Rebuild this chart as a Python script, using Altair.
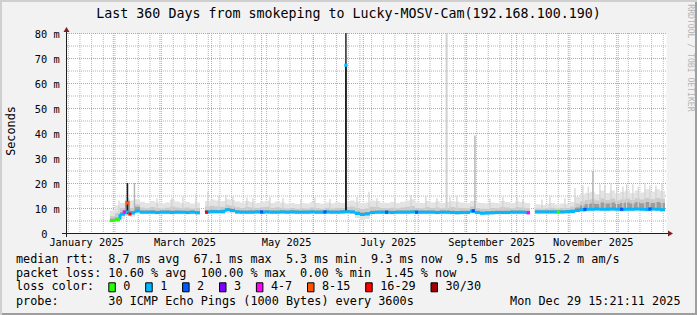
import altair as alt
import pandas as pd

# ---------------- text ----------------
TITLE = "Last 360 Days from smokeping to Lucky-MOSV-Cam(192.168.100.190)"
Y_TITLE = "Seconds"
WATERMARK = "RRDTOOL / TOBI OETIKER"
STAMP = "Mon Dec 29 15:21:11 2025"
LEGEND_ROWS = [
    "median rtt:  8.7 ms avg  67.1 ms max  5.3 ms min  9.3 ms now  9.5 ms sd  915.2 m am/s",
    "packet loss: 10.60 % avg  100.00 % max  0.00 % min  1.45 % now",
    "loss color:",
    "probe:       30 ICMP Echo Pings (1000 Bytes) every 3600s",
]

# ---------------- time frame / axis ----------------
X_START = "2025-01-03T15:21:11"
X_END = "2025-12-29T15:21:11"
BIN_START = "2025-01-30"
BIN_DAYS = 3
LABEL_DATES = ["2025-01-16", "2025-03-16", "2025-05-16", "2025-07-16", "2025-09-16", "2025-11-16"]
LABEL_TEXT = ["January 2025", "March 2025", "May 2025", "July 2025", "September 2025", "November 2025"]
Y_MAJOR = [10, 20, 30, 40, 50, 60, 70, 80]
Y_MINOR = [5, 15, 25, 35, 45, 55, 65, 75]
Y_TICKS = [0, 10, 20, 30, 40, 50, 60, 70, 80]
Y_TICK_TEXT = ["0", "10 m", "20 m", "30 m", "40 m", "50 m", "60 m", "70 m", "80 m"]

# ---------------- loss colours ----------------
loss_labels = ["0", "1", "2", "3", "4-7", "8-15", "16-29", "30/30"]
loss_colors = ["#26ff00", "#00b8ff", "#0059ff", "#7e00ff", "#ff00ff", "#ff5500", "#ff0000", "#a00000"]

# ---------------- per-bin values (ms), 3-day bins from 2025-01-30 ----------------
median_ms = [
    5.0, 5.3, 7.5, 8.4, 8.0, 8.8, 8.3, 8.3, 8.3, 8.2,
    8.3, 8.3, 8.2, 8.3, 8.3, 8.2, 8.3, 8.1, None, 8.4,
    8.5, 8.5, 8.5, 9.3, 9.0, 8.4, 8.3, 8.3, 8.3, 8.4,
    8.3, 8.4, 8.3, 8.3, 8.4, 8.3, 8.4, 8.3, 8.3, 8.3,
    8.4, 8.3, 8.3, 8.4, 8.3, 8.3, 8.4, 8.5, 8.4, 7.8,
    7.4, 7.6, 8.2, 8.3, 8.3, 8.3, 8.2, 8.3, 8.3, 8.3,
    8.4, 8.3, 8.3, 8.3, 8.3, 8.2, 8.3, 8.3, 8.2, 8.1,
    8.2, 8.2, 8.7, 8.2, 7.9, 8.0, 8.1, 8.2, 8.2, 8.2,
    8.3, 8.3, 8.3, 8.2, None, 8.4, 8.4, 8.4, 8.4, 8.4,
    8.4, 8.5, 8.6, 9.0, 9.3, 9.5, 9.5, 9.6, 9.5, 9.5,
    9.6, 9.5, 9.4, 9.5, 9.5, 9.6, 9.5, 9.4, 9.6, 9.5,
    9.3,
]
smoke_max = [
    9.0, 11.0, 12.0, 14.0, 13.0, 13.5, 12.5, 12.0, 12.8, 12.2,
    11.8, 12.2, 13.2, 12.6, 12.0, 12.4, 11.8, 12.2, None, 12.8,
    13.4, 13.0, 12.8, 13.5, 13.2, 12.6, 12.2, 12.8, 12.4, 12.0,
    12.5, 12.9, 12.0, 12.6, 12.2, 11.8, 12.0, 11.6, 12.0, 11.8,
    12.4, 12.0, 11.7, 12.2, 11.9, 12.3, 12.0, 12.8, 13.0, 12.4,
    12.0, 12.2, 13.0, 12.8, 12.2, 12.0, 12.4, 12.0, 12.5, 13.0,
    13.5, 12.2, 12.0, 12.8, 12.2, 12.6, 12.0, 12.4, 12.8, 12.5,
    12.2, 12.0, 12.8, 12.2, 12.0, 11.8, 12.2, 12.0, 12.8, 12.4,
    12.0, 12.6, 12.4, 12.0, None, 11.5, 11.2, 11.6, 12.0, 11.4,
    11.8, 11.6, 12.4, 14.5, 15.5, 16.0, 16.5, 15.5, 17.0, 16.0,
    17.0, 15.8, 16.5, 17.0, 16.0, 17.0, 16.2, 17.5, 16.5, 17.5,
    16.8,
]
smoke_mid = [
    6.8, 8.0, 10.0, 13.0, 10.0, 11.5, 10.2, 9.9, 10.4, 10.0,
    9.8, 10.1, 10.6, 10.2, 9.9, 10.2, 9.8, 10.0, None, 10.6,
    10.9, 10.6, 10.5, 11.2, 10.9, 10.3, 10.0, 10.4, 10.2, 10.0,
    10.3, 10.5, 10.0, 10.3, 10.1, 9.8, 10.0, 9.7, 9.9, 9.8,
    10.2, 9.9, 9.7, 10.1, 9.8, 10.1, 10.0, 10.4, 10.6, 10.0,
    9.6, 9.8, 10.5, 10.4, 10.0, 9.9, 10.1, 9.9, 10.2, 10.5,
    10.8, 10.0, 9.9, 10.4, 10.0, 10.2, 9.9, 10.1, 10.4, 10.1,
    10.0, 9.9, 10.6, 10.0, 9.7, 9.7, 10.0, 9.9, 10.4, 10.2,
    9.9, 10.3, 10.2, 9.9, None, 9.8, 9.7, 9.9, 10.1, 9.8,
    10.0, 10.0, 10.5, 11.8, 12.6, 13.2, 13.5, 13.0, 13.8, 13.2,
    13.8, 13.0, 13.4, 13.8, 13.2, 13.9, 13.4, 14.0, 13.5, 14.0,
    13.6,
]
smoke_core = [
    5.8, 6.2, 8.2, 12.8, 8.8, 10.5, 9.0, 9.0, 9.1, 8.9,
    9.0, 9.0, 9.0, 9.0, 8.9, 8.9, 9.0, 8.8, None, 9.2,
    9.3, 9.2, 9.3, 10.0, 9.8, 9.1, 9.0, 9.0, 9.1, 9.1,
    9.0, 9.1, 9.0, 9.0, 9.1, 9.0, 9.1, 9.0, 9.0, 9.0,
    9.1, 9.0, 9.0, 9.1, 9.0, 9.0, 9.1, 9.2, 9.1, 8.6,
    8.2, 8.4, 8.9, 9.0, 9.0, 9.0, 8.9, 9.0, 9.0, 9.0,
    9.1, 9.0, 9.0, 9.0, 9.0, 8.9, 9.0, 9.0, 8.9, 8.8,
    8.9, 8.9, 9.4, 8.9, 8.6, 8.7, 8.8, 8.9, 8.9, 8.9,
    9.0, 9.0, 9.0, 8.9, None, 9.1, 9.1, 9.1, 9.1, 9.1,
    9.1, 9.2, 9.4, 10.2, 11.0, 11.6, 11.8, 11.6, 12.2, 11.8,
    12.2, 11.6, 12.0, 12.2, 11.8, 12.3, 11.9, 12.4, 12.0, 12.4,
    12.0,
]
smoke_min = [
    4.6, 4.8, 5.5, 7.0, 6.5, 7.6, 7.5, 7.5, 7.5, 7.4,
    7.5, 7.5, 7.4, 7.5, 7.5, 7.4, 7.5, 7.3, None, 7.6,
    7.7, 7.7, 7.7, 8.0, 7.9, 7.6, 7.5, 7.5, 7.5, 7.6,
    7.5, 7.6, 7.5, 7.5, 7.6, 7.5, 7.6, 7.5, 7.5, 7.5,
    7.6, 7.5, 7.5, 7.6, 7.5, 7.5, 7.6, 7.7, 7.6, 6.0,
    5.2, 5.6, 7.3, 7.5, 7.5, 7.5, 7.4, 7.5, 7.5, 7.5,
    7.6, 7.5, 7.5, 7.5, 7.5, 7.4, 7.5, 7.5, 7.4, 7.3,
    7.4, 7.4, 7.8, 7.4, 7.1, 7.2, 7.3, 7.4, 7.4, 7.4,
    7.5, 7.5, 7.5, 7.4, None, 7.7, 7.7, 7.7, 7.7, 7.7,
    7.7, 7.8, 7.9, 8.2, 8.4, 8.6, 8.6, 8.7, 8.6, 8.6,
    8.7, 8.6, 8.5, 8.6, 8.6, 8.7, 8.6, 8.5, 8.7, 8.6,
    8.4,
]
loss_bucket = [
    "0", "0", "1", "1", "1", "1", "1", "1", "1", "1",
    "1", "1", "1", "1", "1", "1", "1", "1", "1", "1",
    "1", "1", "1", "1", "1", "1", "1", "1", "1", "1",
    "1", "1", "1", "1", "1", "1", "1", "1", "1", "1",
    "1", "1", "1", "1", "1", "1", "1", "1", "1", "1",
    "1", "1", "1", "1", "1", "1", "1", "1", "1", "1",
    "1", "1", "1", "1", "1", "1", "1", "1", "1", "1",
    "1", "1", "1", "1", "1", "1", "1", "1", "1", "1",
    "1", "1", "1", "1", "1", "1", "1", "1", "1", "1",
    "1", "1", "1", "1", "1", "1", "1", "1", "1", "1",
    "1", "1", "1", "1", "1", "1", "1", "1", "1", "1",
    "1",
]

# ---------------- short loss-coloured median readings (single points) ----------------
marker_dates = [
    "2025-02-07T14:00", "2025-02-09T14:00", "2025-02-11T00:00", "2025-03-29T00:00",
    "2025-05-01T00:00", "2025-06-08T00:00", "2025-06-20T14:00", "2025-07-15T00:00",
    "2025-08-02T00:00", "2025-09-05T00:00", "2025-10-08T00:00", "2025-10-26T00:00",
    "2025-11-11T00:00", "2025-12-03T00:00", "2025-12-20T00:00",
]
marker_ms = [8.4, 12.0, 7.6, 8.3, 8.4, 8.4, 67.1, 8.3, 8.3, 8.9, 8.1, 8.4, 9.4, 9.5, 9.6]
marker_loss = ["4-7", "8-15", "16-29", "16-29", "2", "2", "1", "2", "2", "2", "4-7", "0", "2", "2", "2"]

# ---------------- single smoke spikes ----------------
spike_dates = [
    "2025-02-04T10:00", "2025-02-09T12:00", "2025-02-13T17:00", "2025-02-27T05:00",
    "2025-03-08T05:00", "2025-03-14T19:00", "2025-03-22T14:00", "2025-03-29T19:00",
    "2025-04-05T10:00", "2025-04-09T14:00", "2025-04-13T19:00", "2025-04-22T05:00",
    "2025-04-25T19:00", "2025-05-06T00:00", "2025-05-13T19:00", "2025-05-24T14:00",
    "2025-06-02T00:00", "2025-06-11T00:00", "2025-06-20T14:00", "2025-06-20T14:00",
    "2025-06-27T05:00", "2025-07-04T10:00", "2025-07-09T05:00", "2025-07-20T00:00",
    "2025-07-29T14:00", "2025-08-07T14:00", "2025-08-14T05:00", "2025-08-20T00:00",
    "2025-08-22T00:00", "2025-08-26T05:00", "2025-09-06T00:00", "2025-09-15T00:00",
    "2025-09-22T19:00", "2025-10-01T05:00", "2025-10-04T19:00", "2025-10-16T05:00",
    "2025-10-21T00:00", "2025-10-30T00:00", "2025-11-09T19:00", "2025-11-15T19:00",
    "2025-11-20T00:00", "2025-11-26T14:00", "2025-12-03T19:00", "2025-12-09T19:00",
    "2025-12-17T00:00", "2025-12-23T14:00", "2025-12-27T05:00", "2025-11-05T00:00",
    "2025-11-13T00:00", "2025-11-23T00:00", "2025-11-30T00:00", "2025-12-06T00:00",
    "2025-12-13T00:00", "2025-12-20T00:00",
]
spike_base = [
    5.5, 7.5, 8.0, 9.0, 9.0, 9.0, 9.0, 9.0, 9.0, 9.0, 9.0, 9.0,
    9.0, 9.0, 9.0, 9.0, 9.0, 9.0, 8.5, 8.5, 9.0, 9.0, 9.0, 9.0,
    9.0, 9.0, 9.0, 9.0, 9.0, 9.0, 9.0, 9.0, 9.0, 9.0, 9.0, 9.0,
    9.0, 9.0, 10.0, 10.0, 10.0, 10.0, 10.0, 10.0, 10.0, 10.0, 10.0, 10.0,
    10.0, 10.0, 10.0, 10.0, 10.0, 10.0,
]
spike_top = [
    13.0, 20.0, 20.0, 13.8, 14.0, 14.5, 15.5, 16.5, 15.0, 15.2, 14.6, 14.2,
    14.0, 14.5, 14.0, 13.5, 14.3, 13.6, 85.0, 67.1, 14.4, 16.5, 14.0, 14.0,
    15.2, 14.8, 14.0, 85.0, 14.5, 15.0, 39.0, 13.8, 14.4, 14.0, 13.6, 13.4,
    15.0, 14.0, 19.0, 24.8, 19.5, 20.0, 18.5, 19.5, 20.0, 19.0, 20.0, 18.0,
    18.5, 19.0, 18.0, 19.5, 18.5, 19.0,
]
spike_kind = [
    "light", "dark", "medium", "light", "light", "light", "light", "light", "light", "light", "light", "light",
    "light", "light", "light", "light", "light", "light", "thin", "dark", "light", "light", "light", "light",
    "light", "light", "light", "faint", "light", "light", "medium", "light", "light", "light", "light", "light",
    "light", "light", "light", "medium", "light", "light", "light", "light", "light", "light", "light", "light",
    "light", "light", "light", "light", "light", "light",
]

# ---------------- helpers ----------------
OX, OY = 66, 33          # plot origin inside the 697x315 canvas
MONO = "DejaVu Sans Mono"


def ms(s):
    t = pd.Timestamp(s)
    if t.tzinfo is None:
        t = t.tz_localize("UTC")
    return int(t.timestamp() * 1000)


def nb(s):
    return s.replace(" ", "\u00a0")


DAY = 86400000
n = len(median_ms)
b0 = ms(BIN_START)
bins = pd.DataFrame({
    "t": [b0 + i * BIN_DAYS * DAY for i in range(n)],
    "t2": [b0 + (i + 1) * BIN_DAYS * DAY for i in range(n)],
    "med": median_ms, "hi": smoke_max, "mid": smoke_mid, "core": smoke_core,
    "lo": smoke_min, "loss": loss_bucket,
})
bins["prev"] = bins["med"].shift(1)
conn = bins.dropna(subset=["med", "prev"])
conn = conn[(conn["prev"] - conn["med"]).abs() > 0.05]
med_df = bins.dropna(subset=["med"])

spikes = pd.DataFrame({"t": [ms(d) for d in spike_dates], "base": spike_base,
                       "top": spike_top, "kind": spike_kind})
markers = pd.DataFrame({"t": [ms(d) for d in marker_dates], "v": marker_ms, "loss": marker_loss})

weeks = pd.DataFrame({"t": [ms(d) for d in pd.date_range("2025-01-05", "2025-12-28", freq="7D")]})
months = pd.DataFrame({"t": [ms(d) for d in pd.date_range("2025-02-01", "2025-12-01", freq="MS")]})
ymin_df = pd.DataFrame({"v": Y_MINOR})
ymaj_df = pd.DataFrame({"v": Y_MAJOR})
xlab_df = pd.DataFrame({"t": [ms(d) for d in LABEL_DATES], "label": [nb(s) for s in LABEL_TEXT]})
ylab_df = pd.DataFrame({"v": Y_TICKS, "label": [nb(s) for s in Y_TICK_TEXT]})
one = pd.DataFrame({"a": [0]})

xs = alt.Scale(type="utc", domain=[ms(X_START), ms(X_END)], nice=False)
ys = alt.Scale(domain=[0, 80], nice=False, zero=False, clamp=True)
loss_scale = alt.Scale(domain=loss_labels, range=loss_colors)

X = lambda f: alt.X(f, type="temporal", scale=xs, axis=None)
Y = lambda f: alt.Y(f, type="quantitative", scale=ys, axis=None)

# ---------------- grid ----------------
MINOR_C, MAJOR_C = "#b4b4b4", "#e49090"
grid_week = alt.Chart(weeks).mark_rule(color=MINOR_C, strokeDash=[1, 1], strokeWidth=1).encode(x=X("t"))
grid_ymin = alt.Chart(ymin_df).mark_rule(color=MINOR_C, strokeDash=[1, 1], strokeWidth=1, yOffset=0.5).encode(
    y=Y("v"))
grid_month = alt.Chart(months).mark_rule(color=MAJOR_C, strokeDash=[1, 1], strokeWidth=1).encode(x=X("t"))
grid_ymaj = alt.Chart(ymaj_df).mark_rule(color=MAJOR_C, strokeDash=[1, 1], strokeWidth=1, yOffset=0.5).encode(
    y=Y("v"))

# axis labels, placed through the scales
x_labels = alt.Chart(xlab_df).mark_text(font=MONO, fontSize=10.3, align="center", baseline="alphabetic",
                                        color="#000000").encode(
    x=X("t"), y=alt.value(245.7 - OY), text="label:N")
y_labels = alt.Chart(ylab_df).transform_filter("datum.v > 0").mark_text(
    font=MONO, fontSize=10.3, align="right", baseline="alphabetic", color="#000000", dy=4.8).encode(
    x=alt.value(59.6 - OX), y=Y("v"), text="label:N")
y_label0 = alt.Chart(ylab_df).transform_filter("datum.v == 0").mark_text(
    font=MONO, fontSize=10.3, align="right", baseline="alphabetic", color="#000000", dy=4.8).encode(
    x=alt.value(47.4 - OX), y=Y("v"), text="label:N")

# ---------------- smoke ----------------
smoke_light = alt.Chart(bins).mark_rect(color="#e3e3e3").encode(x=X("t"), x2="t2", y=Y("lo"), y2="hi")
smoke_medium = alt.Chart(bins).mark_rect(color="#cbcbcb").encode(x=X("t"), x2="t2", y=Y("med"), y2="mid")
smoke_dark = alt.Chart(bins).mark_rect(color="#9c9c9c").encode(x=X("t"), x2="t2", y=Y("med"), y2="core")
spike_layer = alt.Chart(spikes).mark_rule(strokeCap="butt").encode(
    x=X("t"), y=Y("base"), y2="top",
    stroke=alt.Stroke("kind:N", legend=None, scale=alt.Scale(
        domain=["light", "medium", "dark", "thin", "faint"],
        range=["#d2d2d2", "#b2b2b2", "#1c1c1c", "#4a4a4a", "#d0d0d0"])),
    size=alt.Size("kind:N", legend=None, scale=alt.Scale(
        domain=["light", "medium", "dark", "thin", "faint"], range=[1.2, 2, 2, 1, 1])))

# ---------------- median ----------------
med_conn = alt.Chart(conn).mark_rule(strokeWidth=3, strokeCap="butt").encode(
    x=X("t"), y=Y("prev"), y2="med", color=alt.Color("loss:N", scale=loss_scale, legend=None))
med_line = alt.Chart(med_df).mark_rule(strokeWidth=3, strokeCap="butt").encode(
    x=X("t"), x2="t2", y=Y("med"), color=alt.Color("loss:N", scale=loss_scale, legend=None))
marker_layer = alt.Chart(markers).mark_point(shape="square", filled=True, size=10, opacity=1).encode(
    x=X("t"), y=Y("v"), color=alt.Color("loss:N", scale=loss_scale, legend=None))

# ---------------- frame: axis lines, arrows, border ----------------
AXIS_C, ARROW_C = "#1f1f1f", "#801f1f"
y_axis_line = alt.Chart(one).mark_rule(color=AXIS_C, strokeWidth=1).encode(
    x=alt.value(0.5), y=alt.value(-4), y2=alt.value(204))
x_axis_line = alt.Chart(one).mark_rule(color=AXIS_C, strokeWidth=1).encode(
    x=alt.value(-4), x2=alt.value(604), y=alt.value(200.5))
y_arrow = alt.Chart(one).mark_point(shape="M-1,0.833L1,0.833L0,-0.833Z", filled=True, size=36,
                                    color=ARROW_C, opacity=1).encode(x=alt.value(0.5), y=alt.value(-3.5))
x_arrow = alt.Chart(one).mark_point(shape="M-0.833,-1L-0.833,1L0.833,0Z", filled=True, size=36,
                                    color=ARROW_C, opacity=1).encode(x=alt.value(604.5), y=alt.value(200.5))


def band(x0, y0, x1, y1, color):
    return alt.Chart(one).mark_rect(color=color).encode(
        x=alt.value(x0 - OX), x2=alt.value(x1 - OX), y=alt.value(y0 - OY), y2=alt.value(y1 - OY))


border = [band(0, 0, 697, 2, "#cfcfcf"), band(0, 0, 2, 315, "#cfcfcf"),
          band(2, 313, 697, 315, "#9e9e9e"), band(695, 2, 697, 315, "#9e9e9e")]


def text(s, x, y, size, align="left", angle=0, color="#000000"):
    kw = dict(text=nb(s), font=MONO, fontSize=size, align=align, baseline="alphabetic", color=color)
    if angle:
        kw["angle"] = angle
    return alt.Chart(one).mark_text(**kw).encode(x=alt.value(x - OX), y=alt.value(y - OY))


texts = [
    text(TITLE, 348.5, 18.3, 13.3, align="center"),
    text(Y_TITLE, 15, 131, 11.8, align="center", angle=270),
    text(WATERMARK, 687.5, 4.3, 8.1, align="left", angle=90, color="#b4b4b4"),
    text(STAMP, 680.5, 304.5, 11.8, align="right"),
]
ROW_BASE = [262.5, 276.5, 290.3, 304.5]
for s, yb in zip(LEGEND_ROWS, ROW_BASE):
    texts.append(text(s, 16, yb, 11.8))

# legend swatches for loss colours
CW = 7.1
sx, tx = [], []
cur = 108.3
for lab in loss_labels:
    sx.append(cur)
    tx.append(cur + 15)
    cur = cur + 15 + len(lab) * CW + 14.8
sw = pd.DataFrame({"label": loss_labels,
                   "sx": [v - OX + 0.5 for v in sx], "sx2": [v - OX + 7.0 for v in sx],
                   "tx": [v - OX for v in tx]})
swatches = alt.Chart(sw).mark_rect(stroke="#000000", strokeWidth=1).encode(
    x=alt.X("sx:Q", scale=None), x2="sx2", y=alt.value(282.8 - OY), y2=alt.value(291.8 - OY),
    fill=alt.Fill("label:N", scale=loss_scale, legend=None))
sw_text = alt.Chart(sw).mark_text(font=MONO, fontSize=11.8, align="left", baseline="alphabetic",
                                  color="#000000").encode(
    x=alt.X("tx:Q", scale=None), y=alt.value(290.3 - OY), text="label:N")

layers = ([grid_week, grid_ymin, grid_month, grid_ymaj, smoke_light, smoke_medium, smoke_dark,
           spike_layer, med_conn, med_line, marker_layer, y_axis_line, x_axis_line, y_arrow, x_arrow,
           x_labels, y_labels, y_label0]
          + border + texts + [swatches, sw_text])

chart = alt.layer(*layers).properties(
    width=600, height=200, background="#f2f2f2",
    padding={"left": OX, "top": OY, "right": 697 - OX - 600, "bottom": 315 - OY - 200},
    autosize=alt.AutoSizeParams(type="none"),
).configure_view(fill="#ffffff", stroke="transparent")

chart.save("out.html", embed_options={"renderer": "svg", "actions": False})
